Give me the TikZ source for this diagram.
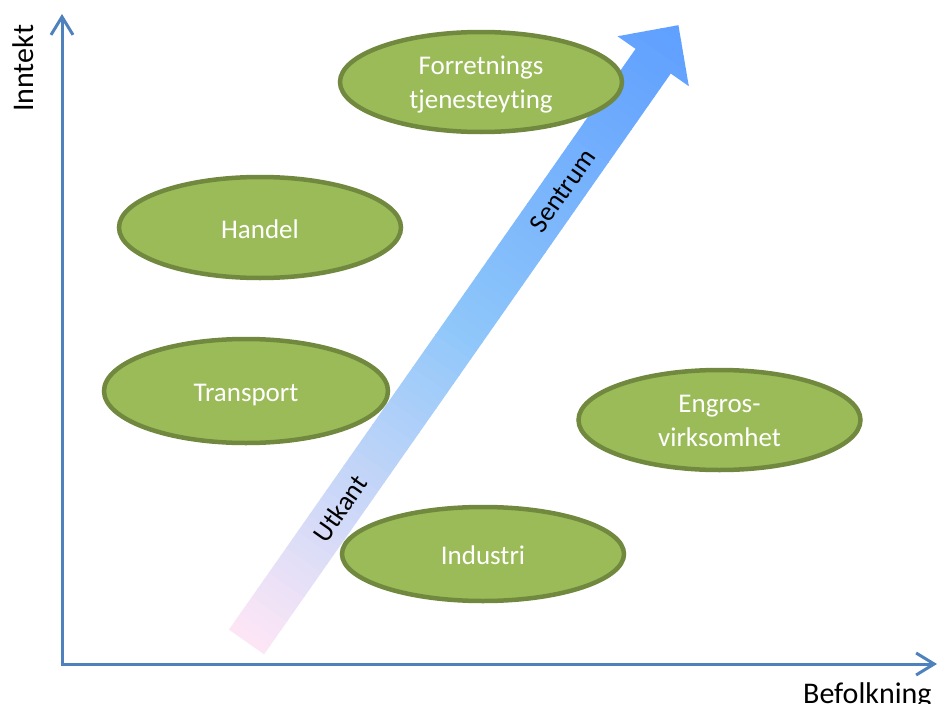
\documentclass[tikz,border=0pt]{standalone}
\usepackage{fontspec}
\setmainfont{Carlito}[Ligatures={NoCommon,NoRequired,NoContextual}]
\usetikzlibrary{shapes.geometric,arrows.meta}
\definecolor{ellfill}{HTML}{9BBB59}
\definecolor{elldraw}{HTML}{71893F}
\definecolor{axisblue}{HTML}{4F81BD}
\definecolor{gpink}{HTML}{FCE6F6}
\definecolor{gmid}{HTML}{8EC6FA}
\definecolor{gblue}{HTML}{5E9EFF}
\begin{document}
\begin{tikzpicture}[x=1pt,y=-1pt,
  sector/.style={ellipse, fill=ellfill, draw=elldraw, line width=4.5pt,
    minimum width=282pt, minimum height=100pt, inner sep=0pt,
    text=white, align=center, font=\fontsize{27}{34}\selectfont,
    text depth=0pt, text height=21pt},
  twoline/.style={text height=53pt},
  axisline/.style={draw=axisblue, line width=3pt,
    -{Straight Barb[length=18pt,width=22pt]}},
  lbl/.style={font=\fontsize{27}{32}\selectfont, inner sep=0pt},
  axlbl/.style={font=\fontsize{30}{36}\selectfont, inner sep=0pt}]
\useasboundingbox (0,0) rectangle (938,704);

% axes
\coordinate (yb) at (62,665.5);
\coordinate (ytip) at (62,14);
\coordinate (xl) at (60.5,664);
\coordinate (xtip) at (937,664);
\draw[axisline] (yb) -- (ytip);
\draw[axisline] (xl) -- (xtip);
\node[axlbl, rotate=90, anchor=base west] (inntekt) at (33,112) {Inntekt};
\node[axlbl, anchor=base west] (befolkning) at (803,703) {Befolkning};

% gradient arrow
\begin{scope}[shift={(246.5,642)}, rotate=55]
  \begin{scope}
    \clip (0,-21.5) -- (709,-21.5) -- (709,-43.5) -- (753,0) -- (709,43.5) -- (709,21.5) -- (0,21.5) -- cycle;
    \foreach \i in {0,...,76} {
      \pgfmathsetmacro{\uu}{\i*10}
      \pgfmathtruncatemacro{\pa}{min(100,max(0,\uu/376.5*100))}
      \pgfmathtruncatemacro{\pb}{min(100,max(0,(\uu-376.5)/376.5*100))}
      \ifdim\uu pt<376.5pt
        \colorlet{stripc}{gmid!\pa!gpink}
      \else
        \colorlet{stripc}{gblue!\pb!gmid}
      \fi
      \fill[stripc] (\uu,-50) rectangle (\uu+10.8,50);
    }
  \end{scope}
  \node[lbl, rotate=55] (utkant) at (163,0) {Utkant};
  \node[lbl, rotate=55] (sentrum) at (551,0) {Sentrum};
\end{scope}

% sectors
\node[sector, twoline] (forr) at (481,82) {Forretnings\\tjenesteyting};
\node[sector, minimum height=101pt] (handel) at (260,227.5) {Handel};
\node[sector, minimum width=284pt, minimum height=104pt] (transport) at (246,391) {Transport};
\node[sector, twoline] (engros) at (719.5,420) {Engros-\\virksomhet};
\node[sector, minimum height=94pt] (industri) at (483,554) {Industri};
\end{tikzpicture}
\end{document}
